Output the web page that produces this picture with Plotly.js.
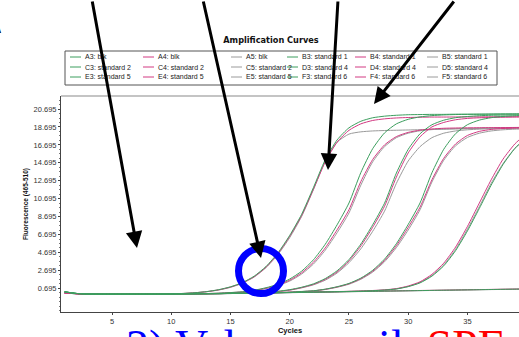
<!DOCTYPE html>
<html>
<head>
<meta charset="utf-8">
<script src="https://cdn.plot.ly/plotly-3.0.1.min.js"></script>
<style>
html,body{margin:0;padding:0;background:#fff;overflow:hidden;}
#chart{width:519px;height:337px;}
</style>
</head>
<body>
<div id="chart"></div>
<script>
// ---- data ----
const cycles = [1,2,3,4,5,6,7,8,9,10,11,12,13,14,15,16,17,18,19,20,21,22,23,24,25,26,27,28,29,30,31,32,33,34,35,36,37,38,39,40];

const A3 = [0.32,0.12,0.06,0.05,0.04,0.05,0.05,0.05,0.06,0.06,0.07,0.08,0.09,0.10,0.12,0.14,0.16,0.18,0.20,0.22,0.24,0.26,0.28,0.30,0.32,0.34,0.36,0.38,0.40,0.42,0.44,0.46,0.48,0.50,0.52,0.54,0.56,0.58,0.60,0.62];
const A4 = [0.18,0.10,0.06,0.05,0.05,0.05,0.06,0.06,0.06,0.07,0.08,0.09,0.10,0.11,0.13,0.15,0.17,0.19,0.21,0.23,0.25,0.27,0.29,0.31,0.33,0.35,0.37,0.39,0.41,0.43,0.45,0.47,0.49,0.51,0.53,0.55,0.57,0.59,0.61,0.63];
const A5 = [0.16,0.09,0.05,0.04,0.04,0.04,0.05,0.05,0.05,0.06,0.07,0.08,0.09,0.10,0.11,0.13,0.15,0.17,0.19,0.21,0.23,0.25,0.27,0.29,0.31,0.33,0.35,0.37,0.39,0.41,0.43,0.45,0.47,0.49,0.51,0.53,0.55,0.57,0.59,0.61];

const B3 = [0.30,0.12,0.06,0.05,0.05,0.05,0.05,0.06,0.06,0.08,0.12,0.20,0.33,0.54,0.86,1.33,2.05,3.13,4.64,6.60,8.94,11.93,15.05,17.25,18.60,19.33,19.72,19.90,20.00,20.06,20.08,20.10,20.10,20.12,20.12,20.13,20.14,20.15,20.15,20.16];
const B4 = [0.20,0.10,0.06,0.05,0.05,0.05,0.06,0.06,0.07,0.09,0.12,0.20,0.32,0.52,0.83,1.29,1.99,3.05,4.54,6.50,8.80,11.75,14.80,17.00,18.32,19.04,19.42,19.60,19.70,19.75,19.78,19.80,19.80,19.81,19.82,19.82,19.83,19.84,19.84,19.85];
const B5 = [0.16,0.09,0.05,0.05,0.05,0.05,0.05,0.06,0.07,0.08,0.11,0.19,0.31,0.50,0.80,1.26,1.95,3.00,4.45,6.35,8.70,11.70,14.90,17.00,17.90,18.15,18.25,18.30,18.33,18.36,18.39,18.42,18.45,18.48,18.51,18.54,18.57,18.60,18.63,18.66];

const C3 = [0.28,0.11,0.06,0.05,0.05,0.05,0.05,0.05,0.05,0.06,0.07,0.09,0.11,0.15,0.22,0.30,0.48,0.76,1.14,1.73,2.60,3.87,5.61,7.78,10.21,13.60,16.27,18.03,19.04,19.55,19.82,19.96,20.04,20.08,20.10,20.11,20.12,20.13,20.14,20.15];
const C4 = [0.19,0.10,0.06,0.05,0.05,0.05,0.05,0.05,0.06,0.06,0.07,0.09,0.11,0.14,0.21,0.29,0.45,0.71,1.06,1.60,2.42,3.60,5.20,7.22,9.46,12.60,15.06,16.69,17.62,18.09,18.34,18.47,18.55,18.58,18.60,18.61,18.62,18.63,18.64,18.65];
const C5 = [0.15,0.09,0.05,0.04,0.04,0.05,0.05,0.05,0.05,0.06,0.07,0.08,0.10,0.13,0.20,0.27,0.42,0.66,1.00,1.50,2.28,3.40,4.95,6.90,9.10,12.20,14.80,16.50,17.50,18.00,18.27,18.40,18.46,18.50,18.52,18.54,18.56,18.58,18.59,18.60];

const D3 = [0.30,0.12,0.06,0.05,0.05,0.05,0.05,0.05,0.05,0.06,0.07,0.08,0.09,0.10,0.12,0.15,0.20,0.28,0.36,0.54,0.81,1.19,1.78,2.65,3.90,5.63,7.78,10.19,13.55,16.20,17.94,18.94,19.45,19.73,19.86,19.95,20.00,20.02,20.04,20.05];
const D4 = [0.20,0.10,0.06,0.05,0.05,0.05,0.05,0.06,0.06,0.06,0.07,0.08,0.09,0.10,0.12,0.15,0.19,0.26,0.34,0.50,0.77,1.13,1.70,2.52,3.75,5.42,7.50,9.85,13.10,15.80,17.60,18.70,19.20,19.50,19.65,19.72,19.76,19.78,19.80,19.81];
const D5 = [0.16,0.09,0.05,0.04,0.04,0.05,0.05,0.05,0.05,0.06,0.07,0.08,0.09,0.10,0.12,0.14,0.18,0.26,0.33,0.49,0.74,1.08,1.60,2.40,3.55,5.10,7.05,9.30,12.40,14.90,16.50,17.50,18.00,18.25,18.38,18.45,18.50,18.52,18.55,18.57];

const E3 = [0.29,0.12,0.06,0.05,0.05,0.05,0.05,0.05,0.05,0.06,0.07,0.08,0.09,0.10,0.12,0.14,0.16,0.18,0.21,0.26,0.34,0.42,0.60,0.87,1.24,1.83,2.70,3.95,5.67,7.82,10.22,13.58,16.21,17.95,18.95,19.46,19.73,19.87,19.95,19.99];
const E4 = [0.19,0.10,0.06,0.05,0.05,0.05,0.05,0.06,0.06,0.07,0.08,0.09,0.10,0.11,0.13,0.15,0.17,0.19,0.22,0.27,0.33,0.41,0.58,0.84,1.20,1.77,2.60,3.80,5.45,7.50,9.75,12.80,15.20,16.80,17.75,18.20,18.42,18.52,18.57,18.60];
const E5 = [0.15,0.09,0.05,0.04,0.04,0.05,0.05,0.05,0.05,0.06,0.07,0.08,0.09,0.10,0.11,0.13,0.15,0.17,0.20,0.25,0.33,0.40,0.56,0.81,1.15,1.70,2.50,3.65,5.23,7.20,9.46,12.55,14.98,16.60,17.53,18.00,18.25,18.38,18.45,18.48];

const F3 = [0.30,0.12,0.06,0.05,0.05,0.05,0.05,0.05,0.05,0.06,0.07,0.08,0.09,0.10,0.12,0.14,0.16,0.18,0.20,0.22,0.24,0.27,0.29,0.32,0.35,0.38,0.43,0.50,0.62,0.88,1.30,2.05,3.20,4.90,7.10,9.60,12.20,14.50,16.30,17.60];
const F4 = [0.19,0.10,0.06,0.05,0.05,0.05,0.05,0.06,0.06,0.07,0.08,0.09,0.10,0.11,0.13,0.15,0.17,0.19,0.21,0.23,0.25,0.28,0.30,0.33,0.36,0.40,0.45,0.52,0.66,0.95,1.42,2.25,3.50,5.30,7.60,10.20,12.80,15.10,16.80,18.00];
const F5 = [0.15,0.09,0.05,0.04,0.04,0.05,0.05,0.05,0.05,0.06,0.07,0.08,0.09,0.10,0.11,0.13,0.15,0.17,0.19,0.21,0.23,0.26,0.28,0.31,0.34,0.37,0.42,0.50,0.63,0.90,1.35,2.12,3.30,5.05,7.30,9.80,12.40,14.60,16.30,17.40];

// legend order (row by row, as in the reference legend box)
const wellNames = ['A3: blk','A4: blk','A5: blk','B3: standard 1','B4: standard 1','B5: standard 1',
                   'C3: standard 2','C4: standard 2','C5: standard 2','D3: standard 4','D4: standard 4','D5: standard 4',
                   'E3: standard 5','E4: standard 5','E5: standard 5','F3: standard 6','F4: standard 6','F5: standard 6'];
const wellValues = [A3,A4,A5,B3,B4,B5,C3,C4,C5,D3,D4,D5,E3,E4,E5,F3,F4,F5];

const yTickVals = [0.695,2.695,4.695,6.695,8.695,10.695,12.695,14.695,16.695,18.695,20.695];
const yTickText = ['0.695','2.695','4.695','6.695','8.695','10.695','12.695','14.695','16.695','18.695','20.695'];
const xTickVals = [5,10,15,20,25,30,35,40];

// ---- styling ----
const lineColors = ['#3c9e5e','#d23a82','#9a9a9a']; // column 3 green, column 4 pink, column 5 gray
const L = 61, R = 519, T = 96, B = 312, W = R - L, H = B - T;
const px = x => (x - L) / W;
const py = y => (B - y) / H;

const traces = [];
// draw gray first, then pink, then green on top
[2,1,0].forEach(c => {
  wellNames.forEach((n, i) => {
    if (i % 3 !== c) return;
    traces.push({
      type: 'scatter', mode: 'lines', name: n,
      x: cycles, y: wellValues[i],
      line: {color: lineColors[c], width: 1, shape: 'spline', smoothing: 0.6},
      showlegend: false, hoverinfo: 'skip'
    });
  });
});

const shapes = [];
const annotations = [];

// legend box
shapes.push({type:'rect', xref:'paper', yref:'paper', x0:px(65), x1:px(497), y0:py(85), y1:py(51),
             line:{color:'#555', width:1}, fillcolor:'rgba(0,0,0,0)'});
const colLine = [70,143,231,287,355,427];
const rowY = [57,67,77];
wellNames.forEach((n, i) => {
  const r = Math.floor(i / 6), c = i % 6;
  const y = rowY[r];
  shapes.push({type:'line', xref:'paper', yref:'paper', x0:px(colLine[c]), x1:px(colLine[c] + 11), y0:py(y), y1:py(y),
               line:{color:lineColors[i % 3], width:1}});
  annotations.push({xref:'paper', yref:'paper', x:px(colLine[c] + 13), y:py(y), xanchor:'left', yanchor:'middle',
                    text:n, showarrow:false, font:{family:'Liberation Sans, Arial', size:7, color:'#222'}});
});

// top frame line
shapes.push({type:'line', xref:'paper', yref:'paper', x0:0, x1:1, y0:1, y1:1, line:{color:'#8a8a8a', width:1.2}});

// blue circle
shapes.push({type:'circle', xref:'paper', yref:'paper', x0:px(238.5), x1:px(283.5), y0:py(293.5), y1:py(248.5),
             line:{color:'#0000ff', width:7}});

// arrows (tip, tail)
const arrows = [[137,248,92,0],[261,258,203,0],[328,170,338,0],[374,104,455,0]];
arrows.forEach(a => {
  annotations.push({xref:'paper', yref:'paper', x:px(a[0]), y:py(a[1]), ax:a[2]-a[0], ay:a[3]-a[1],
                    axref:'pixel', ayref:'pixel', text:'', showarrow:true, arrowhead:2, arrowsize:1.1,
                    arrowwidth:3, arrowcolor:'#000'});
});

// fragment letter at top-left
annotations.push({xref:'paper', yref:'paper', x:px(3), y:py(29), xanchor:'right', yanchor:'middle', text:'<b>A</b>',
                  showarrow:false, font:{family:'Liberation Sans, Arial', size:10, color:'#000'}});

// big slide text at bottom (mostly cut off)
annotations.push({xref:'paper', yref:'paper', x:px(124), y:py(319), xanchor:'left', yanchor:'top',
                  text:'2) Value vs. oil, <span style="color:#ff0000">SPE</span>', showarrow:false,
                  font:{family:'Liberation Serif, Times New Roman, serif', size:46, color:'#0000ff'}});

const layout = {
  width: 519, height: 337,
  margin: {l: L, r: 519 - R, t: T, b: 337 - B},
  paper_bgcolor: '#ffffff', plot_bgcolor: '#ffffff',
  showlegend: false,
  title: {text: '<b>Amplification Curves</b>', x: 271/519, y: 1 - 40/337, xanchor: 'center', yanchor: 'middle',
          xref: 'container', yref: 'container',
          font: {family: 'DejaVu Sans, Arial', size: 8.2, color: '#111'}},
  xaxis: {
    range: [0.696, 39.35], showgrid: false, zeroline: false,
    showline: true, linecolor: '#444', linewidth: 1,
    ticks: 'outside', ticklen: 2, tickcolor: '#444', tickwidth: 1,
    tickmode: 'array', tickvals: xTickVals,
    tickfont: {family: 'Liberation Sans, Arial', size: 7.5, color: '#333'},
    title: {text: '<b>Cycles</b>', standoff: 0, font: {family: 'Liberation Sans, Arial', size: 7.5, color: '#111'}},
    automargin: false, fixedrange: true
  },
  yaxis: {
    range: [-1.95, 22.15], showgrid: false, zeroline: false,
    showline: true, linecolor: '#444', linewidth: 1,
    ticks: 'outside', ticklen: 2, tickcolor: '#444', tickwidth: 1,
    tickmode: 'array', tickvals: yTickVals, ticktext: yTickText,
    minor: {tickmode: 'linear', tick0: 0.695, dtick: 0.5, ticks: 'outside', ticklen: 1.5, tickcolor: '#777'},
    tickfont: {family: 'Liberation Sans, Arial', size: 7.5, color: '#333'},
    title: {text: '<b>Fluorescence (465-510)</b>', standoff: 4, font: {family: 'Liberation Sans, Arial', size: 6.5, color: '#111'}},
    automargin: false, fixedrange: true
  },
  shapes: shapes,
  annotations: annotations
};

Plotly.newPlot('chart', traces, layout, {displayModeBar: false, staticPlot: true});
</script>
</body>
</html>
